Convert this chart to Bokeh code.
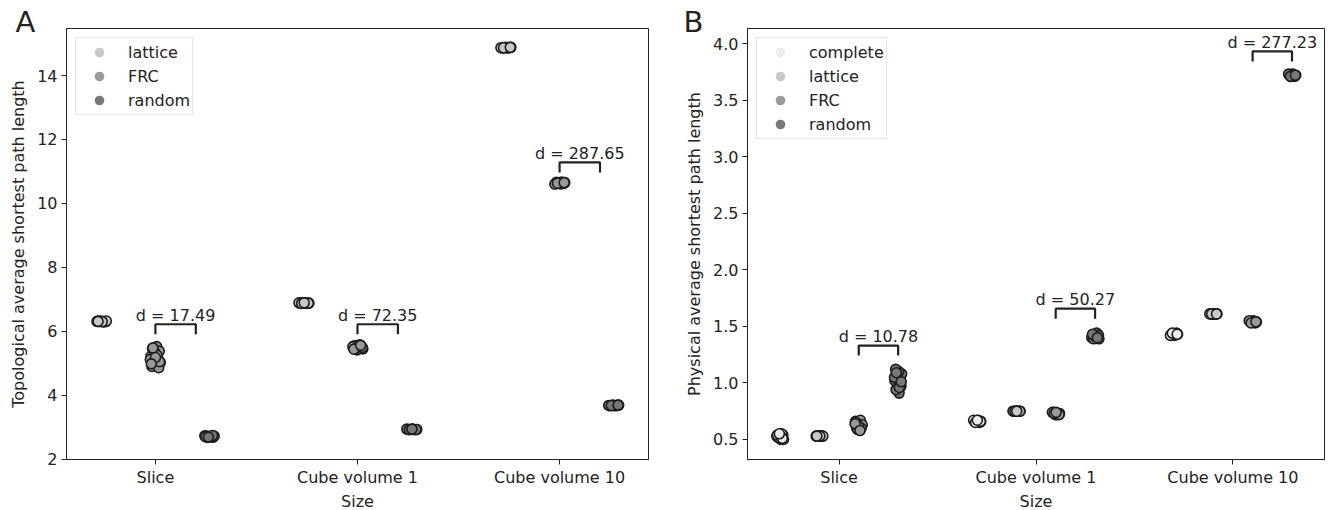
from bokeh.plotting import figure
from bokeh.models import Range1d, FixedTicker, Legend, LegendItem, Title
from bokeh.layouts import row
from bokeh.embed import file_html
from bokeh.resources import INLINE
from bokeh.core.properties import value

# ---------------- data ----------------
categories = ["Slice", "Cube volume 1", "Cube volume 10"]

# Panel A: topological average shortest path length
A_hues = ["lattice", "FRC", "random"]
A_lattice = [
    [6.30, 6.31, 6.30, 6.32, 6.31, 6.30, 6.31, 6.32, 6.30, 6.31],
    [6.88, 6.89, 6.88, 6.87, 6.88, 6.89, 6.88, 6.87, 6.88, 6.89],
    [14.87, 14.88, 14.87, 14.86, 14.87, 14.88, 14.87, 14.86, 14.87, 14.88],
]
A_FRC = [
    [5.52, 5.45, 5.38, 5.30, 5.22, 5.15, 5.08, 5.02, 4.95, 4.90, 4.86, 5.35, 5.12, 5.25, 5.48, 5.05, 5.18, 4.98],
    [5.45, 5.50, 5.55, 5.48, 5.42, 5.52, 5.58, 5.46, 5.50, 5.53, 5.44, 5.56],
    [10.63, 10.65, 10.61, 10.66, 10.62, 10.64, 10.60, 10.67, 10.63, 10.65],
]
A_random = [
    [2.70, 2.72, 2.69, 2.71, 2.73, 2.70, 2.68, 2.72, 2.71, 2.70, 2.74, 2.69],
    [2.93, 2.94, 2.93, 2.92, 2.93, 2.94, 2.93, 2.92, 2.93, 2.94],
    [3.68, 3.69, 3.68, 3.67, 3.68, 3.69, 3.68, 3.67, 3.68, 3.69],
]
A_d = ["d = 17.49", "d = 72.35", "d = 287.65"]
A_bracket_top = [6.22, 6.22, 11.28]
A_yticks = [2, 4, 6, 8, 10, 12, 14]
A_ytick_labels = ["2", "4", "6", "8", "10", "12", "14"]

# Panel B: physical average shortest path length
B_hues = ["complete", "lattice", "FRC", "random"]
B_complete = [
    [0.50, 0.52, 0.54, 0.51, 0.53, 0.55, 0.52, 0.50, 0.53, 0.54, 0.51, 0.55],
    [0.66, 0.67, 0.66, 0.65, 0.66, 0.67, 0.66, 0.65, 0.66, 0.67],
    [1.43, 1.43, 1.42, 1.43, 1.44, 1.43, 1.42, 1.43, 1.44, 1.43],
]
B_lattice = [
    [0.53, 0.53, 0.53, 0.53, 0.53, 0.53, 0.53, 0.53, 0.53, 0.53],
    [0.75, 0.75, 0.75, 0.75, 0.75, 0.75, 0.75, 0.75, 0.75, 0.75],
    [1.61, 1.61, 1.61, 1.61, 1.61, 1.61, 1.61, 1.61, 1.61, 1.61],
]
B_FRC = [
    [0.58, 0.60, 0.62, 0.64, 0.66, 0.67, 0.59, 0.63, 0.61, 0.65, 0.60, 0.62, 0.64, 0.58],
    [0.73, 0.72, 0.74, 0.73, 0.72, 0.74, 0.73, 0.73, 0.72, 0.74],
    [1.54, 1.54, 1.55, 1.54, 1.53, 1.54, 1.55, 1.54, 1.53, 1.54],
]
B_random = [
    [0.91, 0.94, 0.97, 1.00, 1.02, 1.04, 1.06, 1.08, 1.10, 1.12, 0.99, 1.03, 1.05, 0.96, 1.09, 1.01],
    [1.39, 1.40, 1.42, 1.43, 1.41, 1.40, 1.44, 1.39, 1.42, 1.41, 1.43, 1.40],
    [3.71, 3.72, 3.73, 3.72, 3.71, 3.72, 3.73, 3.72, 3.71, 3.72],
]
B_d = ["d = 10.78", "d = 50.27", "d = 277.23"]
B_bracket_top = [1.33, 1.656, 3.93]
B_yticks = [0.5, 1.0, 1.5, 2.0, 2.5, 3.0, 3.5, 4.0]
B_ytick_labels = ["0.5", "1.0", "1.5", "2.0", "2.5", "3.0", "3.5", "4.0"]

hue_colors = {"complete": "#ebebeb", "lattice": "#c9c9c9", "FRC": "#999999", "random": "#777777"}

FONT = "DejaVu Sans"
INK = "#222222"
EDGE = "#1c1c1c"
FS = "16px"
NAN = float("nan")


def make_panel(letter, letter_dx, ylabel, hues, series, offsets, jit, d_labels, bracket_top,
               bracket_off, yticks, ylabels, xr, yr, fw, fh, bl, br):
    p = figure(frame_width=fw, frame_height=fh, x_range=Range1d(*xr), y_range=Range1d(*yr),
               output_backend="svg", toolbar_location=None,
               min_border_left=bl, min_border_right=br, min_border_top=28, min_border_bottom=48)
    p.background_fill_color = "white"
    p.border_fill_color = "white"
    p.outline_line_color = INK
    p.outline_line_width = 1
    p.xgrid.visible = False
    p.ygrid.visible = False

    # panel letter as a title, pulled down next to the frame's top-left corner
    p.add_layout(Title(text=letter, align="left", offset=letter_dx, standoff=-20,
                       text_font=FONT, text_font_size="29px", text_font_style="normal",
                       text_color=INK), "above")

    for ax in (p.xaxis[0], p.yaxis[0]):
        ax.axis_line_color = INK
        ax.major_tick_line_color = INK
        ax.major_tick_out = 5
        ax.major_tick_in = 0
        ax.minor_tick_line_color = None
        ax.major_label_text_font = FONT
        ax.major_label_text_font_size = FS
        ax.major_label_text_color = INK
        ax.axis_label_text_font = FONT
        ax.axis_label_text_font_size = FS
        ax.axis_label_text_font_style = "normal"
        ax.axis_label_text_color = INK

    p.xaxis.ticker = FixedTicker(ticks=list(range(len(categories))))
    p.xaxis.major_label_overrides = {i: c for i, c in enumerate(categories)}
    p.xaxis.axis_label = "Size"
    p.xaxis.major_label_standoff = 3
    p.xaxis.axis_label_standoff = 2
    p.yaxis.ticker = FixedTicker(ticks=yticks)
    p.yaxis.major_label_overrides = {t: l for t, l in zip(yticks, ylabels)}
    p.yaxis.axis_label = ylabel
    p.yaxis.major_label_standoff = 4
    p.yaxis.axis_label_standoff = 6

    uy = (yr[1] - yr[0]) / fh   # data units per pixel (vertical)

    # strip points (deterministic jitter pattern)
    for h, hue in enumerate(hues):
        xs, ys = [], []
        for c, vals in enumerate(series[h]):
            for i, v in enumerate(vals):
                frac = ((i + 1) * 0.6180339887 + c * 0.37) % 1.0
                xs.append(c + offsets[h] + (2 * frac - 1) * jit)
                ys.append(v)
        p.scatter(xs, ys, size=10, fill_color=hue_colors[hue], line_color=EDGE, line_width=1.6)

    # brackets with effect sizes
    leg = 10 * uy
    bxs, bys, tx, ty = [], [], [], []
    for c, top in enumerate(bracket_top):
        x0 = c + bracket_off[0]
        x1 = c + bracket_off[1]
        bxs.append([x0, x0, x1, x1])
        bys.append([top - leg, top, top, top - leg])
        tx.append((x0 + x1) / 2)
        ty.append(top + 9 * uy)
    p.multi_line(bxs, bys, line_color=INK, line_width=2.2)
    p.text(tx, ty, text=d_labels, text_align="center", text_baseline="middle",
           text_font=value(FONT), text_font_size=FS, text_color=INK)

    # legend
    items = []
    for hue in hues:
        r = p.scatter([NAN], [NAN], size=14, fill_color=hue_colors[hue], line_color=None)
        items.append(LegendItem(label=hue, renderers=[r]))
    legend = Legend(items=items, location="top_left", margin=9, padding=2,
                    glyph_width=42, glyph_height=24, spacing=0, label_standoff=8,
                    label_height=19,
                    label_text_font=FONT, label_text_font_size=FS, label_text_color=INK,
                    border_line_color="#cccccc", border_line_width=1,
                    background_fill_color="white", background_fill_alpha=0.8)
    p.add_layout(legend)
    return p


pA = make_panel("A", -51, "Topological average shortest path length", A_hues,
                [A_lattice, A_FRC, A_random], [-0.2667, 0.0, 0.2667], 0.027,
                A_d, A_bracket_top, (0.0, 0.2), A_yticks, A_ytick_labels,
                (-0.44, 2.44), (1.99, 15.47), 582, 431, 66, 10)
pB = make_panel("B", -64, "Physical average shortest path length", B_hues,
                [B_complete, B_lattice, B_FRC, B_random], [-0.3, -0.1, 0.1, 0.3], 0.02,
                B_d, B_bracket_top, (0.1, 0.3), B_yticks, B_ytick_labels,
                (-0.465, 2.465), (0.323, 4.133), 577, 431, 89, 4)

layout = row(pA, pB)
open("out.html", "w").write(file_html(layout, INLINE))
